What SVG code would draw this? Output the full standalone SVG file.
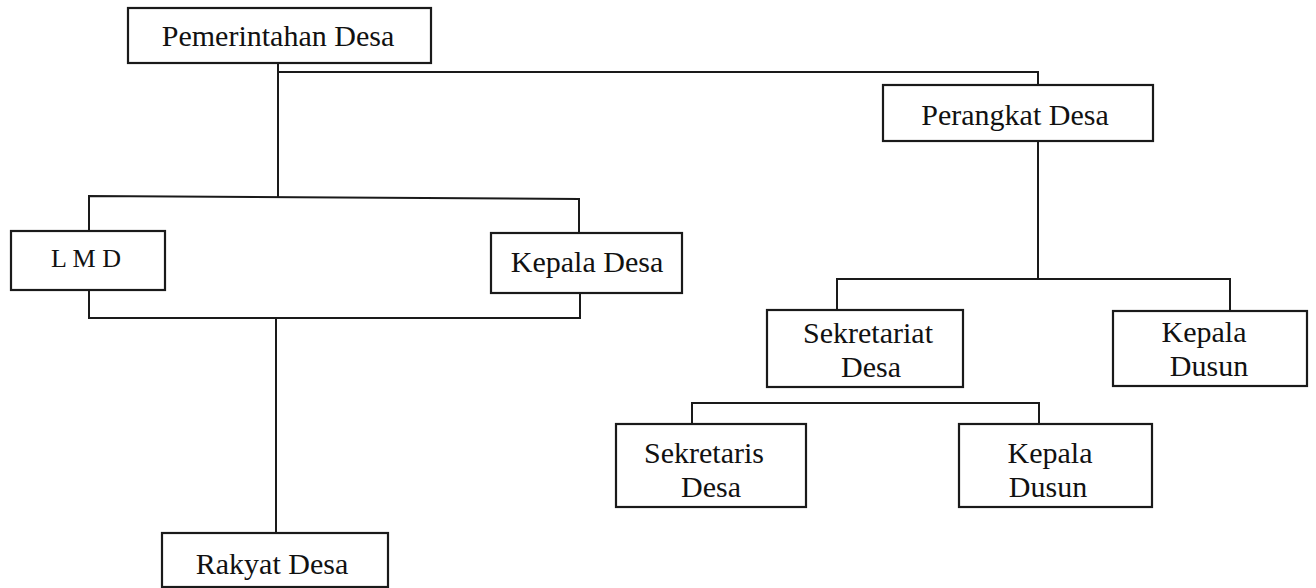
<svg xmlns="http://www.w3.org/2000/svg" width="1316" height="588" viewBox="0 0 1316 588">
<style>
.box{fill:#fff;stroke:#1a1a1a;stroke-width:2.2}
.conn{fill:none;stroke:#1a1a1a;stroke-width:2}
text{font-family:"Liberation Serif","Times New Roman",serif;font-size:30px;fill:#111;text-anchor:middle}
</style>
<rect width="1316" height="588" fill="#fff"/>
<g id="connectors">
<path class="conn" d="M278,63 V197 M278,72 H1038 V85"/>
<path class="conn" d="M89,231 V196 L579,199 V233"/>
<path class="conn" d="M89,290 V318 H580 V293"/>
<path class="conn" d="M276,318 V533"/>
<path class="conn" d="M1038,141 V279 M837,310 V279 H1230 V311"/>
<path class="conn" d="M692,424 V403 H1039 V424"/>
</g>
<g id="pemerintahan-desa">
<rect class="box" x="128" y="8" width="303" height="55"/>
<text x="278" y="46">Pemerintahan Desa</text>
</g>
<g id="perangkat-desa">
<rect class="box" x="883" y="85" width="270" height="56"/>
<text x="1015" y="125">Perangkat Desa</text>
</g>
<g id="lmd">
<rect class="box" x="11" y="231" width="154" height="59"/>
<text x="86" y="267" style="font-size:26px">L M D</text>
</g>
<g id="kepala-desa">
<rect class="box" x="491" y="233" width="191" height="60"/>
<text x="587" y="272">Kepala Desa</text>
</g>
<g id="rakyat-desa">
<rect class="box" x="162" y="533" width="226" height="54"/>
<text x="272" y="574">Rakyat Desa</text>
</g>
<g id="sekretariat-desa">
<rect class="box" x="767" y="310" width="196" height="77"/>
<text x="868" y="343">Sekretariat</text>
<text x="871" y="377">Desa</text>
</g>
<g id="kepala-dusun-1">
<rect class="box" x="1113" y="311" width="194" height="75"/>
<text x="1204" y="342">Kepala</text>
<text x="1209" y="376">Dusun</text>
</g>
<g id="sekretaris-desa">
<rect class="box" x="616" y="424" width="190" height="83"/>
<text x="704" y="463">Sekretaris</text>
<text x="711" y="497">Desa</text>
</g>
<g id="kepala-dusun-2">
<rect class="box" x="959" y="424" width="193" height="83"/>
<text x="1050" y="463">Kepala</text>
<text x="1048" y="497">Dusun</text>
</g>
</svg>
